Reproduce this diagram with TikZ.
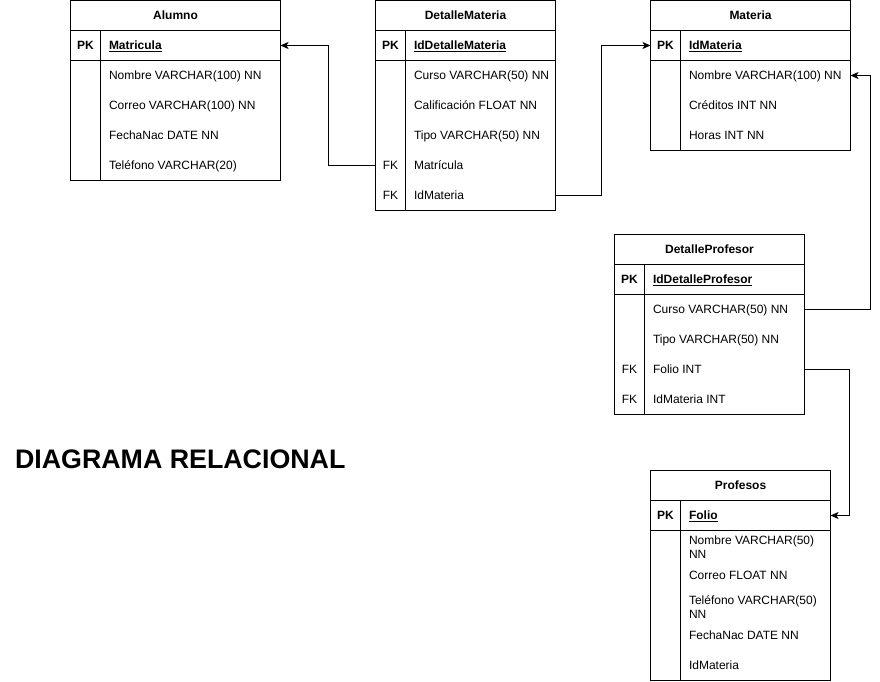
\documentclass[tikz,border=0pt]{standalone}
\usepackage{fontspec}
\setmainfont{Liberation Sans}
\usetikzlibrary{positioning,arrows.meta}

\begin{document}
\begin{tikzpicture}[x=1pt,y=-1pt,line width=1pt,
    tbl/.style={draw,rectangle,inner sep=0pt,outer sep=0pt,minimum height=30pt},
    head/.style={tbl,anchor=north west,font=\fontsize{12}{14}\selectfont\bfseries,text height=9pt,text depth=1pt},
    field/.style={anchor=west,inner sep=0pt,font=\fontsize{12}{14}\selectfont,text height=9pt,text depth=1pt},
    wrapfield/.style={anchor=west,inner sep=0pt,font=\fontsize{12}{14}\selectfont,align=left},
    pkname/.style={field,font=\fontsize{12}{14}\selectfont\bfseries},
    key/.style={field,anchor=center,font=\fontsize{12}{14}\selectfont\bfseries},
    fk/.style={field,anchor=center},
    rel/.style={-{Stealth[length=8pt,width=7pt,inset=2pt]}}]
  \useasboundingbox (0,0) rectangle (880,681);

  % Alumno
  \node[head,minimum width=210pt] (al) at (70.5,0.5) {Alumno};
  \node[tbl,minimum width=210pt,below=0pt of al] (al-pk) {};
  \node[tbl,minimum width=210pt,minimum height=120pt,below=0pt of al-pk] (al-body) {};
  \draw ([xshift=30pt]al-pk.north west) -- ([xshift=30pt]al-body.south west);
  \node[key] at ([xshift=15pt]al-pk.west) {PK};
  \node[pkname] (al-id) at ([xshift=38pt]al-pk.west) {\underline{Matricula}};
  \foreach \f [count=\i] in {Nombre VARCHAR(100) NN,Correo VARCHAR(100) NN,FechaNac DATE NN,Teléfono VARCHAR(20)}
    \node[field] (al-f\i) at ([xshift=38pt,yshift={15-30*\i}]al-body.north west) {\f};

  % DetalleMateria
  \node[head,minimum width=180pt] (dm) at (375.5,0.5) {DetalleMateria};
  \node[tbl,minimum width=180pt,below=0pt of dm] (dm-pk) {};
  \node[tbl,minimum width=180pt,minimum height=150pt,below=0pt of dm-pk] (dm-body) {};
  \draw ([xshift=30pt]dm-pk.north west) -- ([xshift=30pt]dm-body.south west);
  \node[key] at ([xshift=15pt]dm-pk.west) {PK};
  \node[pkname] (dm-id) at ([xshift=38pt]dm-pk.west) {\underline{IdDetalleMateria}};
  \foreach \f [count=\i] in {Curso VARCHAR(50) NN,Calificación FLOAT NN,Tipo VARCHAR(50) NN,Matrícula,IdMateria}
    \node[field] (dm-f\i) at ([xshift=38pt,yshift={15-30*\i}]dm-body.north west) {\f};
  \foreach \i in {4,5}
    \node[fk] at ([xshift=-23pt]dm-f\i.west) {FK};

  % Materia
  \node[head,minimum width=200pt] (ma) at (650.5,0.5) {Materia};
  \node[tbl,minimum width=200pt,below=0pt of ma] (ma-pk) {};
  \node[tbl,minimum width=200pt,minimum height=90pt,below=0pt of ma-pk] (ma-body) {};
  \draw ([xshift=30pt]ma-pk.north west) -- ([xshift=30pt]ma-body.south west);
  \node[key] at ([xshift=15pt]ma-pk.west) {PK};
  \node[pkname] (ma-id) at ([xshift=38pt]ma-pk.west) {\underline{IdMateria}};
  \foreach \f [count=\i] in {Nombre VARCHAR(100) NN,Créditos INT NN,Horas INT NN}
    \node[field] (ma-f\i) at ([xshift=38pt,yshift={15-30*\i}]ma-body.north west) {\f};

  % DetalleProfesor
  \node[head,minimum width=190pt] (dp) at (614.5,234.5) {DetalleProfesor};
  \node[tbl,minimum width=190pt,below=0pt of dp] (dp-pk) {};
  \node[tbl,minimum width=190pt,minimum height=120pt,below=0pt of dp-pk] (dp-body) {};
  \draw ([xshift=30pt]dp-pk.north west) -- ([xshift=30pt]dp-body.south west);
  \node[key] at ([xshift=15pt]dp-pk.west) {PK};
  \node[pkname] (dp-id) at ([xshift=38pt]dp-pk.west) {\underline{IdDetalleProfesor}};
  \foreach \f [count=\i] in {Curso VARCHAR(50) NN,Tipo VARCHAR(50) NN,Folio INT,IdMateria INT}
    \node[field] (dp-f\i) at ([xshift=38pt,yshift={15-30*\i}]dp-body.north west) {\f};
  \foreach \i in {3,4}
    \node[fk] at ([xshift=-23pt]dp-f\i.west) {FK};

  % Profesos
  \node[head,minimum width=180pt] (pr) at (650.5,470.5) {Profesos};
  \node[tbl,minimum width=180pt,below=0pt of pr] (pr-pk) {};
  \node[tbl,minimum width=180pt,minimum height=150pt,below=0pt of pr-pk] (pr-body) {};
  \draw ([xshift=30pt]pr-pk.north west) -- ([xshift=30pt]pr-body.south west);
  \node[key] at ([xshift=15pt]pr-pk.west) {PK};
  \node[pkname] (pr-id) at ([xshift=38pt]pr-pk.west) {\underline{Folio}};
  \node[wrapfield] (pr-f1) at ([xshift=38pt,yshift=-17pt]pr-body.north west) {Nombre VARCHAR(50)\\NN};
  \node[field] (pr-f2) at ([xshift=38pt,yshift=-44.5pt]pr-body.north west) {Correo FLOAT NN};
  \node[wrapfield] (pr-f3) at ([xshift=38pt,yshift=-77pt]pr-body.north west) {Teléfono VARCHAR(50)\\NN};
  \node[field] (pr-f4) at ([xshift=38pt,yshift=-105pt]pr-body.north west) {FechaNac DATE NN};
  \node[field] (pr-f5) at ([xshift=38pt,yshift=-135pt]pr-body.north west) {IdMateria};

  \node[anchor=west,inner sep=0pt,font=\fontsize{26.8}{30}\selectfont\bfseries] (titulo) at (14.5,459) {DIAGRAMA RELACIONAL};

  \coordinate (ma-in) at (ma-body.east |- ma-f1);
  \draw[rel] (dm-body.west |- dm-f4) -- ++(-47,0) |- (al-pk.east);
  \draw[rel] (dm-body.east |- dm-f5) -- ++(46,0) |- (ma-pk.west);
  \draw[rel] (dp-body.east |- dp-f1) -- ++(65.5,0) |- (ma-in);
  \draw[rel] (dp-body.east |- dp-f3) -- ++(45,0) |- (pr-pk.east);
\end{tikzpicture}
\end{document}
